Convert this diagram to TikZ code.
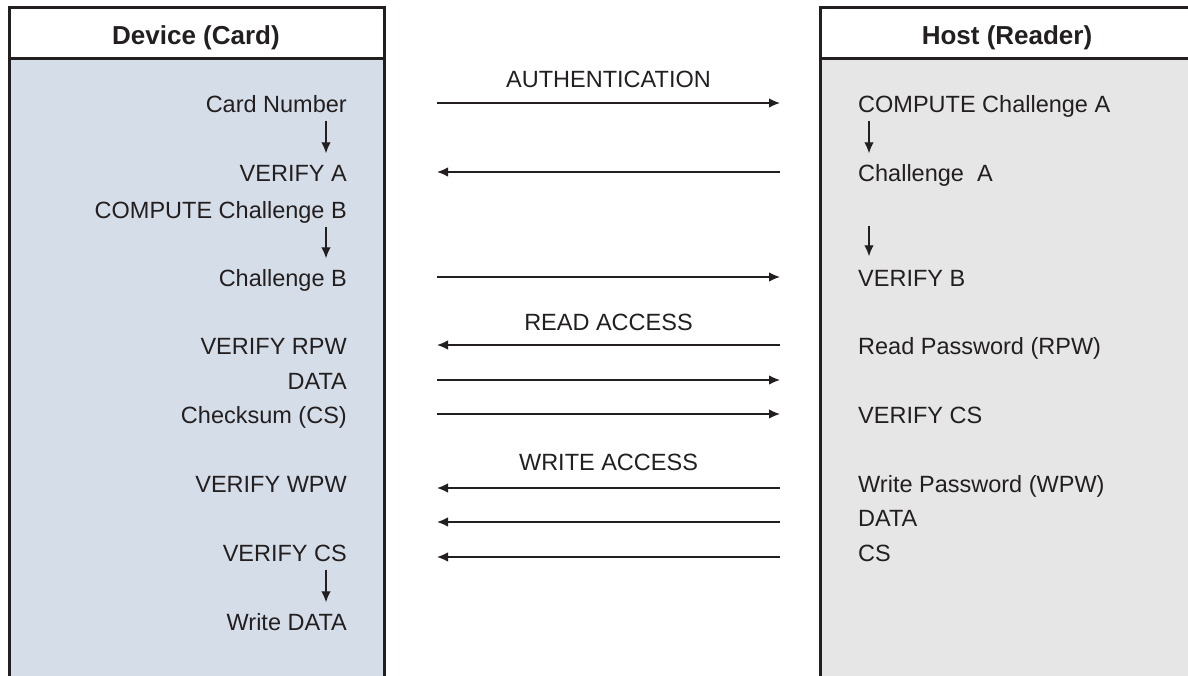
\documentclass[tikz,border=0pt]{standalone}
\usepackage{fontspec}
\setmainfont{Liberation Sans}
\usetikzlibrary{arrows.meta, positioning, calc}
\definecolor{cardfill}{HTML}{D5DEE8}
\definecolor{hostfill}{HTML}{E6E6E6}
\definecolor{ink}{HTML}{231F20}

\begin{document}
\begin{tikzpicture}[x=1pt, y=-1pt,
	txt/.style={inner sep=0pt, text height=19pt, text depth=0pt, text=ink, font=\fontsize{23.5}{28}\selectfont},
	dev/.style={txt, anchor=east},
	hst/.style={txt, anchor=west},
	head/.style={inner sep=0pt, text height=19pt, text depth=0pt, text=ink, font=\fontsize{26}{31}\selectfont\bfseries},
	msg/.style={draw=ink, line width=1.3pt, -{Latex[length=11pt, width=9.5pt]}},
	flow/.style={msg, shorten <=8pt, shorten >=9pt}]
	\clip (0,0) rectangle (1188,676);
	\useasboundingbox (0,0) rectangle (1188,676);
	
	% Columns
	\fill[cardfill] (9.5,59) rectangle (384,700);
	\fill[hostfill] (820.5,59) rectangle (1196,700);
	\draw[draw=ink, line width=3pt] (9.5,700) -- (9.5,7.5) -- (384,7.5) -- (384,700);
	\draw[draw=ink, line width=3pt] (9.5,59) -- (384,59);
	\draw[draw=ink, line width=3pt] (820.5,700) -- (820.5,7.5) -- (1196,7.5) -- (1196,700);
	\draw[draw=ink, line width=3pt] (820.5,59) -- (1196,59);
	\node[head] (device) at (196,35) {Device (Card)};
	\node[head] (host) at (1007,35) {Host (Reader)};
	
	% Device side
	\node[dev] (cardnum) at (347,103) {Card Number};
	\node[dev] (verA) at (347,172) {VERIFY A};
	\node[dev] (compB) at (347,209) {COMPUTE Challenge B};
	\node[dev] (chB) at (347,277) {Challenge B};
	\node[dev] (verRPW) at (347,345) {VERIFY RPW};
	\node[dev] (dataD) at (347,380) {DATA};
	\node[dev] (cs) at (347,414) {Checksum (CS)};
	\node[dev] (verWPW) at (347,483) {VERIFY WPW};
	\node[dev] (verCSd) at (347,552) {VERIFY CS};
	\node[dev] (writeD) at (347,621) {Write DATA};
	
	% Host side
	\node[hst] (compA) at (858,103) {COMPUTE Challenge A};
	\node[hst] (chA) at (858,172) {Challenge\ \ A};
	\node[hst] (verB) at (858,277) {VERIFY B};
	\node[hst] (rpw) at (858,345) {Read Password (RPW)};
	\node[hst] (verCSh) at (858,414) {VERIFY CS};
	\node[hst] (wpw) at (858,483) {Write Password (WPW)};
	\node[hst] (dataH) at (858,517) {DATA};
	\node[hst] (csH) at (858,552) {CS};
	
	% Steps inside a column
	\coordinate (lx) at (326,0);
	\coordinate (rx) at (869,0);
	\draw[flow] (cardnum.south -| lx) -- (verA.north -| lx);
	\draw[flow] (compB.south -| lx) -- (chB.north -| lx);
	\draw[flow] (verCSd.south -| lx) -- (writeD.north -| lx);
	\draw[flow] (compA.south -| rx) -- (chA.north -| rx);
	\draw[flow, shorten <=44pt, shorten >=11pt] (chA.south -| rx) -- (verB.north -| rx);
	
	% Messages
	\coordinate (L) at (437,0);
	\coordinate (R) at (780,0);
	\draw[msg] (cardnum -| L) -- (cardnum -| R) node[midway, above=15pt, txt] {AUTHENTICATION};
	\draw[msg] (chA -| R) -- (chA -| L);
	\draw[msg] (chB -| L) -- (chB -| R);
	\draw[msg] (rpw -| R) -- (rpw -| L) node[midway, above=14pt, txt] {READ ACCESS};
	\draw[msg] (dataD -| L) -- (dataD -| R);
	\draw[msg] (cs -| L) -- (cs -| R);
	\draw[msg] ($(wpw -| R)+(0,5)$) -- ($(wpw -| L)+(0,5)$) node[midway, above=17pt, txt] {WRITE ACCESS};
	\draw[msg] ($(dataH -| R)+(0,5)$) -- ($(dataH -| L)+(0,5)$);
	\draw[msg] ($(csH -| R)+(0,5)$) -- ($(csH -| L)+(0,5)$);
\end{tikzpicture}
\end{document}
